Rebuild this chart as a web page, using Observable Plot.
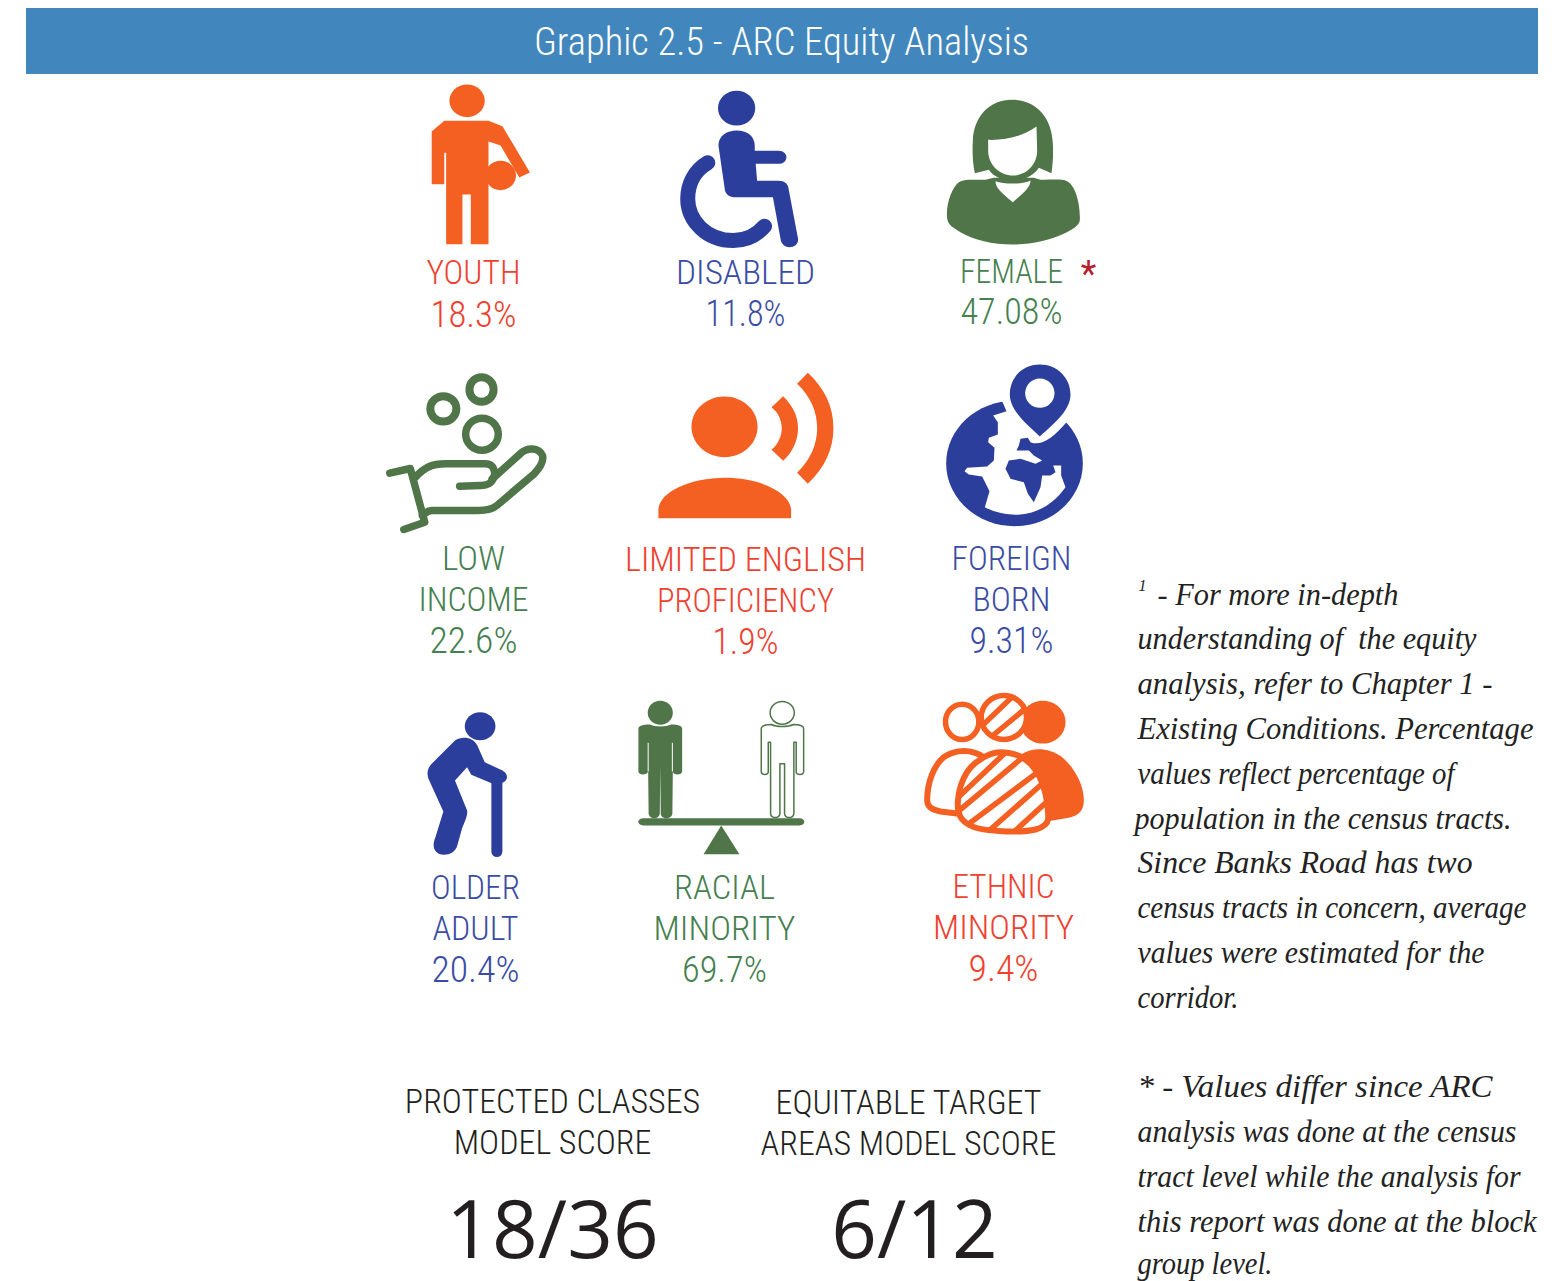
<!DOCTYPE html>
<html><head><meta charset="utf-8">
<script src="https://cdn.jsdelivr.net/npm/d3@7"></script>
<script src="https://cdn.jsdelivr.net/npm/@observablehq/plot@0.6"></script>
<style>html,body{margin:0;padding:0;background:#fff}svg{display:block}</style>
</head><body><div id="chart"></div>
<script>
// ---- data ----
const title = "Graphic 2.5 - ARC Equity Analysis";
const categories = ["YOUTH","DISABLED","FEMALE","LOW|INCOME","LIMITED ENGLISH|PROFICIENCY","FOREIGN|BORN","OLDER|ADULT","RACIAL|MINORITY","ETHNIC|MINORITY"];
const values = [18.3,11.8,47.08,22.6,1.9,9.31,20.4,69.7,9.4];
const scoreNames = ["PROTECTED CLASSES|MODEL SCORE","EQUITABLE TARGET|AREAS MODEL SCORE"];
const scores = ["18/36","6/12"];
const note1 = ["- For more in-depth","understanding of  the equity","analysis, refer to Chapter 1 -","Existing Conditions. Percentage","values reflect percentage of","population in the census tracts.","Since Banks Road has two","census tracts in concern, average","values were estimated for the","corridor."];
const note2 = ["* - Values differ since ARC","analysis was done at the census","tract level while the analysis for","this report was done at the block","group level."];

// ---- layout and style, separate from the data ----
const W = 1552, H = 1281;
const ORANGE="#F46022", BLUE="#2C3E9B", GREEN="#4F7549";
const tRED="#EF4130", tBLUE="#3A4CA3", tGREEN="#45804F", INK="#231F20";
const labelX=[473,745,1011,473,745,1011,475,724,1003];
const labelY=[[273],[273],[272],[559,600],[560,601],[559,600],[888,929],[888,929],[887,928]];
const labelW=[[94],[139],[103],[63,110],[241,177],[120,78],[89,86],[101,142],[102,141]];
const valueY=[315,314,312,641,642,641,970,970,969];
const valueW=[86,80,102,88,66,84,88,85,70];
const labelFill=[tRED,tBLUE,tGREEN,tGREEN,tRED,tBLUE,tBLUE,tGREEN,tRED];
const labelFont='"Liberation Sans Narrow","Roboto Condensed",sans-serif';
const noteFont='"Liberation Serif",serif';

const labelRows=categories.flatMap((c,i)=>c.split("|").map((line,j)=>({line,x:labelX[i],y:labelY[i][j],w:labelW[i][j],fill:labelFill[i]})));
const valueRows=values.map((v,i)=>({line:v+"%",x:labelX[i],y:valueY[i],w:valueW[i],fill:labelFill[i]}));
const scoreX=[[552,908],[552,914]];
const scoreNameRows=scoreNames.flatMap((c,i)=>c.split("|").map((line,j)=>({line,x:scoreX[0][i],y:[1102,1143][j]+i})));
const scoreRows=scores.map((s,i)=>({line:s,x:scoreX[1][i],y:1232}));
const noteY1=[595,639,684,729,774,819,863,908,953,998];
const noteY2=[1087,1132,1177,1222,1264];
const noteW1=[241,339,355,396,317,377,335,389,347,101];
const noteW2=[355,379,383,399,135];
const noteRows=[...note1.map((line,i)=>({line,x:i==0?1157:(i==5?1134:1137),y:noteY1[i],w:noteW1[i]})),...note2.map((line,i)=>({line,x:1137,y:noteY2[i],w:noteW2[i]}))];

// fit each text to its measured length in the reference
const fitted=rows=>(i,s,v,d,c,next)=>{const g=next(i,s,v,d,c);
  g.querySelectorAll("text").forEach((el,k)=>{el.setAttribute("textLength",rows[i[k]].w);el.setAttribute("lengthAdjust","spacingAndGlyphs");});
  return g;};

// ---- icon glyphs: paths are in a local drawing space, anchored through x/y scales ----
function E(cx,cy,rx,ry){const a=.5523*rx,b=.5523*ry;return `M${cx-rx},${cy} C${cx-rx},${cy-b} ${cx-a},${cy-ry} ${cx},${cy-ry} C${cx+a},${cy-ry} ${cx+rx},${cy-b} ${cx+rx},${cy} C${cx+rx},${cy+b} ${cx+a},${cy+ry} ${cx},${cy+ry} C${cx-a},${cy+ry} ${cx-rx},${cy+b} ${cx-rx},${cy} Z`;}
function trace(ctx,d,kx,ky){
  for(const m of d.matchAll(/([MLCZ])([^MLCZ]*)/g)){
    const n=(m[2].match(/-?[\d.]+/g)||[]).map(Number);
    if(m[1]=="M")ctx.moveTo(n[0]*kx,n[1]*ky);
    else if(m[1]=="L"){for(let i=0;i<n.length;i+=2)ctx.lineTo(n[i]*kx,n[i+1]*ky);}
    else if(m[1]=="C"){for(let i=0;i<n.length;i+=6)ctx.bezierCurveTo(n[i]*kx,n[i+1]*ky,n[i+2]*kx,n[i+3]*ky,n[i+4]*kx,n[i+5]*ky);}
    else ctx.closePath();
  }
}
const kX=.4655,kY=1/3,t=1/3;
const R1={x:380,y:75,kx:kX,ky:kY},R2={x:380,y:355,kx:kX,ky:kY},R3={x:380,y:685,kx:kX,ky:kY};
const GB={x:940,y:360,kx:t,ky:t},ET={x:915,y:685,kx:t,ky:t},FM={x:935,y:90,kx:t,ky:t};
const layer=(at,d,o)=>Plot.dot([at],{x:"x",y:"y",r:1,symbol:{draw:c=>trace(c,d,at.kx,at.ky)},fill:"none",stroke:"none",...o});
const fill=(at,d,c)=>layer(at,d,{fill:c});
const line=(at,d,c,sw,o={})=>layer(at,d,{stroke:c,strokeWidth:sw,strokeLinecap:"round",strokeLinejoin:"round",...o});
const SVGNS="http://www.w3.org/2000/svg";
const clipped=(at,d,clipD,c,sw,id)=>layer(at,d,{stroke:c,strokeWidth:sw,render:(i,s,v,dim,ctx,next)=>{
  const g=next(i,s,v,dim,ctx);
  const cp=document.createElementNS(SVGNS,"clipPath");cp.id=id;
  const p=document.createElementNS(SVGNS,"path");
  const dp=d3.path();trace(dp,clipD,at.kx,at.ky);p.setAttribute("d",dp.toString());
  p.setAttribute("transform",`translate(${s.x(at.x)},${s.y(at.y)})`);cp.appendChild(p);
  const wrap=document.createElementNS(SVGNS,"g");
  wrap.appendChild(cp);wrap.setAttribute("clip-path",`url(#${id})`);wrap.appendChild(g);return wrap;}});

// youth
const youth=[
 fill(R1,E(186,76,38,49),ORANGE),
 fill(R1,"M137,136 L232,136 L262,152 L321,291 L298,306 L258,210 L232,198 L232,506 L194,506 L194,357 L176,357 L176,506 L141,506 L141,232 L137,232 L137,326 L110,326 L110,168 Z",ORANGE),
 fill(R1,E(258,300,33,44),ORANGE)];
// disabled
const disabled=[
 fill(R1,E(765,98,40,52),BLUE),
 fill(R1,"M726,210 C726,180 745,165 765,165 C790,165 804,185 804,210 L804,226 L855,226 C865,226 872,235 872,245 C872,256 865,265 855,265 L806,265 L809,316 L855,316 C868,316 874,325 876,335 L897,490 C898,505 890,515 878,515 C868,515 862,505 860,495 L843,365 L760,365 C748,365 742,355 740,345 Z",BLUE),
 line(R1,"M703,262 C675,285 660,325 660,370 C660,435 700,495 758,495 C785,495 808,480 825,452",BLUE,15)];
// female
const female=[
 fill(FM,"M118,248 C112,220 110,190 112,150 C115,80 160,28 230,28 C305,28 350,85 352,160 C354,190 352,220 348,248 L310,232 C300,250 265,272 232,272 C200,272 170,255 160,238 Z",GREEN),
 fill(FM,"M158,148 C215,150 265,135 303,108 L305,180 C305,225 270,255 232,255 C195,255 158,225 158,180 Z","#fff"),
 fill(FM,"M35,385 C30,340 50,290 70,275 C85,265 110,268 150,268 L175,262 L295,262 L315,268 C350,268 380,265 395,272 C420,285 435,340 433,390 C430,405 415,415 385,430 C340,450 290,462 232,462 C170,462 115,448 75,425 C55,413 38,405 35,385 Z",GREEN),
 fill(FM,"M180,272 C205,282 265,282 285,270 C285,285 275,300 232,335 C195,305 180,290 180,272 Z","#fff")];
// low income
const income=[
 line(R2,E(135,160,28,38),GREEN,8),
 line(R2,E(217,102,26,37),GREEN,8),
 line(R2,E(218,236,35,48),GREEN,7.5),
 line(R2,"M20,353 L64,339 L95,500 L50,522",GREEN,7.5),
 line(R2,"M75,365 C95,335 110,325 140,325 L225,325 C245,325 250,355 240,375 C235,388 225,390 215,390 L170,392",GREEN,7.5),
 line(R2,"M240,370 L300,295 C315,275 340,275 348,300 C352,320 340,340 330,355 L250,450 C240,462 225,465 210,465 L110,465 C100,465 95,475 90,480",GREEN,7.5)];
// limited english
const english=[
 fill(R2,E(739,214,71,91),ORANGE),
 fill(R2,"M597,488 L597,460 C600,410 665,367 740,367 C815,367 878,410 882,460 L882,488 Z",ORANGE),
 fill(R2,"M865,122 C885,150 897,180 897,218 C897,255 885,290 865,316 L840,283 C855,265 862,240 862,218 C862,195 855,172 840,155 Z",ORANGE),
 fill(R2,"M918,52 C955,100 973,155 973,218 C973,280 955,335 918,385 L895,352 C925,310 938,265 938,218 C938,170 925,125 895,85 Z",ORANGE)];
// foreign born
const foreign=[
 fill(GB,E(222,309,205,188),BLUE),
 fill(GB,"M198,152 L158,165 L172,185 L172,222 L145,232 L143,245 L162,262 L160,300 L140,318 L80,322 L72,332 L85,342 L125,348 L147,392 L133,440 C165,458 210,465 240,462 C290,458 340,430 375,380 L362,345 L362,315 L338,315 L345,335 L330,345 L305,345 L300,380 L280,425 L262,400 L250,365 L210,355 L195,325 L205,300 L240,295 L285,310 L305,300 L280,285 L265,270 L228,270 L235,255 L240,235 L262,232 L270,245 C300,258 335,235 378,185 L400,100 L190,100 L185,122 Z","#fff"),
 fill(GB,"M298,12 C350,12 390,52 390,102 C390,150 340,190 298,228 C258,190 208,150 208,102 C208,52 245,12 298,12 Z",BLUE),
 fill(GB,E(298,98,44,44),"#fff")];
// older adult
const older=[
 fill(R3,E(214,122,33,42),BLUE),
 fill(R3,"M160,165 C175,150 200,155 208,180 L224,230 L262,255 C275,265 275,285 262,292 L240,294 L195,268 L186,245 L160,285 L186,375 C188,390 180,410 175,430 L165,480 C160,505 140,512 125,505 C112,495 112,475 118,455 L135,378 L103,280 C98,260 103,245 110,235 Z",BLUE),
 line(R3,"M250,290 L250,498",BLUE,11)];
// racial minority
const racial=[
 fill(R3,E(601,82,27,36),GREEN),
 fill(R3,"M554,130 C554,120 565,117 578,117 C590,125 612,125 625,117 C638,117 648,120 648,130 L648,258 C648,270 628,270 628,258 L627,385 C625,403 603,403 602,385 L601,240 L600,385 C598,403 578,403 576,385 L575,258 C573,270 554,270 554,258 Z",GREEN),
 line(R3,"M575,172 L575,258 M627,172 L627,258","#fff",1,{strokeLinecap:"butt"}),
 line(R3,E(863,82,26,34),GREEN,1.5),
 line(R3,"M818,130 C818,120 828,117 840,117 C850,125 875,125 887,117 C900,117 909,120 909,130 L909,258 C909,270 893,270 893,258 L893,170 L888,170 L888,385 C886,400 870,400 868,385 L868,235 L858,235 L858,385 C856,400 840,400 838,385 L838,170 L833,170 L833,258 C833,270 818,270 818,258 Z",GREEN,1.5),
 fill(R3,"M565,398 L900,398 C914,398 914,420 900,420 L565,420 C550,420 550,398 565,398 Z",GREEN),
 fill(R3,"M732,420 L694,506 L771,506 Z",GREEN)];
// ethnic minority
const midHead=E(265,96,68,66), midBody="M255,200 C300,200 340,220 365,260 C385,295 400,350 398,400 C396,415 385,425 360,432 C320,442 200,440 165,420 C135,405 125,385 127,350 C130,300 150,250 190,225 C210,210 235,200 255,200 Z";
const ethnic=[
 fill(ET,E(382,110,68,64),ORANGE),
 fill(ET,"M320,205 C350,185 400,185 440,215 C480,250 505,300 505,345 C505,375 490,390 460,397 L380,410 Z",ORANGE),
 layer(ET,E(140,109,50,53),{fill:"#fff",stroke:ORANGE,strokeWidth:5.5}),
 layer(ET,midHead,{fill:"#fff",stroke:ORANGE,strokeWidth:5.5}),
 clipped(ET,"M190,130 L300,25 M232,150 L335,65",midHead,ORANGE,5.5,"clipHead"),
 layer(ET,"M130,385 L75,378 C50,372 35,365 35,345 C35,290 55,240 85,215 C120,190 170,190 205,215",{stroke:ORANGE,strokeWidth:6}),
 layer(ET,midBody,{fill:"#fff",stroke:ORANGE,strokeWidth:6}),
 clipped(ET,"M110,353 L290,182 M100,401 L345,196 M125,441 L395,239 M190,463 L415,264 M265,467 L428,318",midBody,ORANGE,5.5,"clipBody")];

const text=(rows,o)=>Plot.text(rows,{x:"x",y:"y",text:"line",lineAnchor:"middle",...o});

document.getElementById("chart").append(Plot.plot({
  width:W,height:H,margin:0,
  x:{domain:[0,W],range:[0,W],axis:null},
  y:{domain:[0,H],range:[0,H],axis:null},
  color:{type:"identity"},
  style:{background:"#fff"},
  marks:[
    Plot.rect([{x1:26,x2:1538,y1:8,y2:74}],{x1:"x1",x2:"x2",y1:"y1",y2:"y2",fill:"#4187BD"}),
    text([{line:title,x:781,y:42}],{fill:"#fff",fontSize:38.5,fontFamily:labelFont,fontWeight:300}),
    ...youth,...disabled,...female,...income,...english,...foreign,...older,...racial,...ethnic,
    text(labelRows,{fill:"fill",fontSize:34,fontFamily:labelFont,fontWeight:300,render:fitted(labelRows)}),
    text(valueRows,{fill:"fill",fontSize:36,fontFamily:labelFont,fontWeight:300,render:fitted(valueRows)}),
    text([{line:"*",x:1088,y:274}],{fill:"#B5202F",fontSize:36,fontFamily:labelFont}),
    text(scoreNameRows,{fill:INK,fontSize:34,fontFamily:labelFont,fontWeight:300}),
    text(scoreRows,{fill:INK,fontSize:80,fontFamily:'"Open Sans",sans-serif',fontWeight:400}),
    text(noteRows,{textAnchor:"start",fill:"#222",fontSize:30.5,fontStyle:"italic",fontFamily:noteFont,render:fitted(noteRows)}),
    text([{line:"1",x:1138,y:585}],{textAnchor:"start",fill:"#222",fontSize:16,fontStyle:"italic",fontFamily:noteFont})
  ]
}));
</script></body></html>
